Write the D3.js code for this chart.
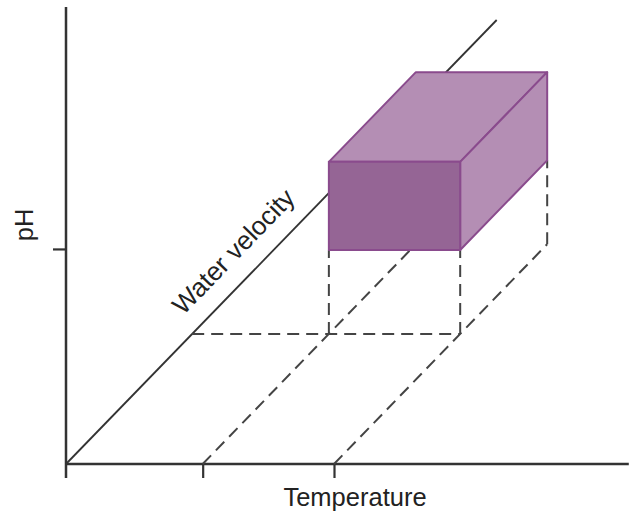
<!DOCTYPE html>
<html>
<head>
<meta charset="utf-8">
<script src="https://cdn.jsdelivr.net/npm/d3@7"></script>
<style>
  html, body { margin: 0; padding: 0; background: #fff; }
  svg { display: block; }
  text { font-family: "Liberation Sans", Arial, Helvetica, sans-serif; fill: #222; }
</style>
</head>
<body>
<svg id="chart" width="629" height="511"></svg>
<script>
// ---- data (schematic units) ----
const axisLabels = ["Temperature", "pH", "Water velocity"];
const tempTicks = [1.02, 2];        // unlabeled temperature ticks
const phTicks = [1];                // unlabeled pH tick
const boxTemp = [1.02, 2];          // temperature range of the niche box
const boxPH = [0.39, 0.80];         // pH range of the niche box
const boxVel = [0.293, 0.495];      // water-velocity range of the niche box
const velExtent = [0, 1];           // extent of the velocity (depth) axis

// ---- scales ----
const svg = d3.select("#chart");
const x = d3.scaleLinear().domain([0, 2]).range([66, 334]);         // temperature
const y = d3.scaleLinear().domain([0, 2.125]).range([464, 7]);      // pH
const v = d3.scaleLinear().domain([0, 1]).range([0, 444]);          // velocity depth
const kx = 0.97; // horizontal share of depth direction

function proj(t, p, w) {
  return [x(t) + v(w) * kx, y(p) - v(w)];
}

const axisColor = "#333";

// ---- axes (d3 axes, no labels) ----
const xAxis = d3.axisBottom(x).tickValues(tempTicks).tickSize(14).tickFormat("");
const gx = svg.append("g").attr("transform", `translate(0,${y(0)})`).call(xAxis);
gx.select(".domain").remove();
gx.selectAll(".tick line").attr("stroke", axisColor).attr("stroke-width", 2.2);
gx.append("line").attr("x1", x(0)).attr("x2", x(4.2)).attr("y1", 0).attr("y2", 0)
  .attr("stroke", axisColor).attr("stroke-width", 2.5);

const yAxis = d3.axisLeft(y).tickValues(phTicks).tickSize(13).tickFormat("");
const gy = svg.append("g").attr("transform", `translate(${x(0)},0)`).call(yAxis);
gy.select(".domain").remove();
gy.selectAll(".tick line").attr("stroke", axisColor).attr("stroke-width", 2.2);
gy.append("line").attr("x1", 0).attr("x2", 0).attr("y1", y(2.125)).attr("y2", y(0) + 14)
  .attr("stroke", axisColor).attr("stroke-width", 2.5);

// ---- water velocity (depth) axis ----
const d0 = proj(0, 0, velExtent[0]), d1 = proj(0, 0, velExtent[1]);
svg.append("line").attr("x1", d0[0]).attr("y1", d0[1]).attr("x2", d1[0]).attr("y2", d1[1])
  .attr("stroke", axisColor).attr("stroke-width", 1.8);

// ---- dashed projection lines ----
const dashed = [
  [[boxTemp[0], 0, 0], [boxTemp[0], 0, boxVel[1]]],
  [[boxTemp[1], 0, 0], [boxTemp[1], 0, boxVel[1]]],
  [[0, 0, boxVel[0]], [boxTemp[1], 0, boxVel[0]]],
  [[boxTemp[0], 0, boxVel[0]], [boxTemp[0], boxPH[0], boxVel[0]]],
  [[boxTemp[1], 0, boxVel[0]], [boxTemp[1], boxPH[0], boxVel[0]]],
  [[boxTemp[1], 0, boxVel[1]], [boxTemp[1], boxPH[0], boxVel[1]]]
];
svg.append("g").selectAll("line").data(dashed).join("line")
  .attr("x1", d => proj(...d[0])[0]).attr("y1", d => proj(...d[0])[1])
  .attr("x2", d => proj(...d[1])[0]).attr("y2", d => proj(...d[1])[1])
  .attr("stroke", "#444").attr("stroke-width", 2).attr("stroke-dasharray", "12,7");

// ---- the niche box ----
const [t0, t1] = boxTemp, [p0, p1] = boxPH, [w0, w1] = boxVel;
const faces = [
  { pts: [[t0, p1, w0], [t1, p1, w0], [t1, p1, w1], [t0, p1, w1]], fill: "#b48eb4" }, // top
  { pts: [[t1, p0, w0], [t1, p0, w1], [t1, p1, w1], [t1, p1, w0]], fill: "#b48eb4" }, // side
  { pts: [[t0, p0, w0], [t1, p0, w0], [t1, p1, w0], [t0, p1, w0]], fill: "#956595" }  // front
];
const line = d3.line();
svg.append("g").selectAll("path").data(faces).join("path")
  .attr("d", d => line(d.pts.map(p => proj(...p))) + "Z")
  .attr("fill", d => d.fill)
  .attr("stroke", "#8a4b8d").attr("stroke-width", 2).attr("stroke-linejoin", "round");

// ---- labels ----
svg.append("text").attr("x", 355).attr("y", 506).attr("text-anchor", "middle")
  .attr("font-size", 25.5).text(axisLabels[0]);

svg.append("text").attr("transform", `translate(33,225) rotate(-90)`)
  .attr("text-anchor", "middle").attr("font-size", 25.5).text(axisLabels[1]);

const ang = Math.atan2(d1[1] - d0[1], d1[0] - d0[0]) * 180 / Math.PI;
const len = Math.hypot(d1[0] - d0[0], d1[1] - d0[1]);
const sAlong = 188 / len;
const lp = [d0[0] + (d1[0] - d0[0]) * sAlong, d0[1] + (d1[1] - d0[1]) * sAlong];
svg.append("text").attr("transform", `translate(${lp[0]},${lp[1]}) rotate(${ang})`)
  .attr("dy", -19).attr("font-size", 26).text(axisLabels[2]);
</script>
</body>
</html>
